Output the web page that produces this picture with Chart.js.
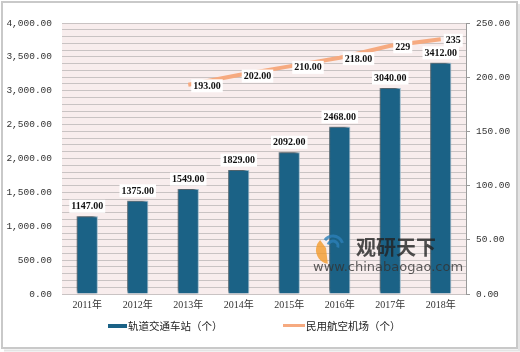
<!DOCTYPE html>
<html><head><meta charset="utf-8">
<script src="https://cdn.jsdelivr.net/npm/chart.js@4.4.1/dist/chart.umd.min.js"></script>
<style>html,body{margin:0;padding:0;background:#fff}#w{width:520px;height:352px;position:relative}</style>
</head><body><div id="w"><canvas id="c" width="520" height="352"></canvas></div>
<script>
const categories = ['2011年','2012年','2013年','2014年','2015年','2016年','2017年','2018年'];
const railStations = [1147,1375,1549,1829,2092,2468,3040,3412];
const airports = [null,null,193,202,210,218,229,235];
const airportLabels = ['','','193.00','202.00','210.00','218.00','229','235'];
const seriesNames = ['轨道交通车站（个）','民用航空机场（个）'];
const leftTicks = [0,500,1000,1500,2000,2500,3000,3500,4000];
const rightTicks = [0,50,100,150,200,250];

const BAR = '#1b6286', LINE = '#f6aa80';
const tickFont = {family:'"Liberation Mono", monospace', size:9.5};
function fmt(v){const p=v.toFixed(2).split('.');return p[0].replace(/\B(?=(\d{3})+(?!\d))/g,',')+'.'+p[1];}

const frame = {id:'frame', beforeDraw(ch){const c=ch.ctx;c.save();c.fillStyle='#fff';c.fillRect(0,0,520,352);
  c.strokeStyle='#c9c9c9';c.lineWidth=2;c.strokeRect(2,2,515,346);
  c.strokeStyle='#e4e4e4';c.lineWidth=2;c.beginPath();c.moveTo(4,350.5);c.lineTo(519,350.5);c.lineTo(519,4);c.stroke();
  const a=ch.chartArea;c.fillStyle='#f8eded';c.fillRect(a.left,a.top,a.right-a.left,a.bottom-a.top);c.restore();}};
const shadow = {id:'shadow', beforeDatasetDraw(ch,args){if(args.index===0){const c=ch.ctx;c.save();c.shadowColor='rgba(0,0,0,0.6)';c.shadowBlur=3;c.shadowOffsetX=-2;c.shadowOffsetY=-2;}},
  afterDatasetDraw(ch,args){if(args.index===0)ch.ctx.restore();}};
function box(c,txt,x,y,align){c.font='bold 10px "Liberation Serif", serif';const w=c.measureText(txt).width;
  const lx = align==='left'? x : x-w/2;c.fillStyle='#fff';c.fillRect(lx-2,y-6.5,w+4,13);c.fillStyle='#111';c.textAlign='left';c.textBaseline='middle';c.fillText(txt,lx,y+0.5);}
const labels = {id:'labels', afterDatasetsDraw(ch){const c=ch.ctx;c.save();
  ch.getDatasetMeta(0).data.forEach((b,i)=>{box(c,railStations[i].toFixed(2),b.x,b.y-10,'center');});
  ch.getDatasetMeta(1).data.forEach((p,i)=>{if(airports[i]!=null)box(c,airportLabels[i],p.x+5,p.y+1,'left');});
  // watermark
  c.globalAlpha=0.8;
  c.fillStyle='#f39a2b';c.beginPath();c.arc(330,250,14,Math.PI*0.55,Math.PI*1.25);c.lineTo(326,248);c.closePath();c.fill();
  c.strokeStyle='#2c7fb8';c.lineWidth=3;c.beginPath();c.arc(333,246,10,Math.PI*1.2,Math.PI*1.9);c.stroke();
  c.beginPath();c.arc(333,246,5,Math.PI*1.1,Math.PI*2.1);c.stroke();
  c.fillStyle='#222';c.font='bold 20px "Noto Sans CJK SC", sans-serif';c.textAlign='left';c.textBaseline='middle';c.fillText('观研天下',356,247);
  c.fillStyle='#333';c.font='13px "DejaVu Sans", sans-serif';c.fillText('www.chinabaogao.com',313,268);
  c.globalAlpha=1;
  // legend
  c.fillStyle=BAR;c.fillRect(108,324,19,4);
  c.fillStyle=LINE;c.fillRect(283,324,22,3);
  c.fillStyle='#222';c.font='10.5px "Noto Sans CJK SC", sans-serif';c.textBaseline='middle';
  c.fillText(seriesNames[0],128,326);c.fillText(seriesNames[1],306,326);
  c.restore();}};

new Chart(document.getElementById('c'),{
  data:{labels:categories,datasets:[
    {type:'bar',label:seriesNames[0],data:railStations,backgroundColor:BAR,borderColor:'#9fc0d2',borderWidth:1,yAxisID:'y',categoryPercentage:1,barPercentage:0.42,order:2},
    {type:'line',label:seriesNames[1],data:airports,borderColor:LINE,borderWidth:4,pointRadius:0,yAxisID:'y1',tension:0,order:1}]},
  options:{responsive:false,animation:false,events:[],
    layout:{padding:{top:23,left:0,right:0,bottom:0}},
    plugins:{legend:{display:false},tooltip:{enabled:false}},
    scales:{
      x:{grid:{display:false,drawTicks:false},border:{display:false},offset:true,
        ticks:{color:'#333',font:{family:'"Liberation Serif","Noto Sans CJK SC", serif',size:10},padding:5,maxRotation:0},
        afterFit(s){s.height=58;}},
      y:{position:'left',min:0,max:4000,
        afterBuildTicks(s){const t=[];for(let v=0;v<=4000;v+=100)t.push({value:v});s.ticks=t;},
        ticks:{autoSkip:false,color:'#333',font:tickFont,padding:10,callback:v=>leftTicks.includes(v)?fmt(v):''},
        grid:{color:'#c9c3c3',drawTicks:false,lineWidth:1},border:{display:false},
        afterFit(s){s.width=62;}},
      y1:{position:'right',min:0,max:250,
        afterBuildTicks(s){s.ticks=rightTicks.map(v=>({value:v}));},
        ticks:{color:'#333',font:tickFont,padding:6,callback:v=>fmt(v)},
        grid:{drawOnChartArea:false,drawTicks:true,tickLength:4,color:'#999'},border:{display:true,color:'#999'},
        afterFit(s){s.width=54;}}
    }},
  plugins:[frame,shadow,labels]
});
</script></body></html>
